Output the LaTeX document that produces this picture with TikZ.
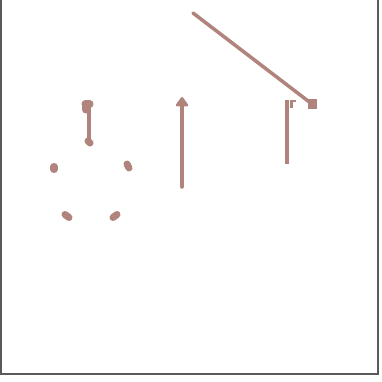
\documentclass[tikz,border=0pt]{standalone}
\usepackage{tikz}
\usetikzlibrary{arrows.meta,positioning,calc}
\usepackage{xcolor}
\definecolor{InkBrown}{HTML}{B0847C}
\definecolor{FrameGray}{HTML}{5A5A5A}

\begin{document}
\begin{tikzpicture}[x=0.03cm, y=-0.03cm,
    inkline/.style={InkBrown, line width=3pt, line cap=round},
    blob/.style={InkBrown, line width=6pt, line cap=round},
    framelines/.style={FrameGray, line width=1.4pt}]
        \useasboundingbox (0,0) rectangle (382,382);
        \draw[framelines] (0.7,0) -- (0.7,374) -- (378,374) -- (378,0);

        \coordinate (pentop) at (89,104);
        \coordinate (penhang) at (89,142);
        \coordinate (penleft) at (54,168);
        \coordinate (penright) at (128,166);
        \coordinate (penbl) at (67,216);
        \coordinate (penbr) at (115,216);

        \draw[inkline] (pentop) -- (penhang);
        \draw[blob] ($(pentop)+(-4,0)$) -- ($(pentop)+(1,0)$)
          ($(pentop)+(-3,0)$) -- ($(pentop)+(-3,6)$);
        \draw[blob] ($(penhang)+(-1,-1)$) -- ($(penhang)+(1,1)$);
        \draw[blob] ($(penleft)+(0,-1.5)$) -- ($(penleft)+(0,1.5)$);
        \draw[blob] ($(penright)+(-1,-2)$) -- ($(penright)+(1,2)$);
        \draw[blob] ($(penbl)+(-2,-1.5)$) -- ($(penbl)+(2,1.5)$);
        \draw[blob] ($(penbr)+(-2,1.5)$) -- ($(penbr)+(2,-1.5)$);

        \coordinate (midfoot) at (182,187);
        \coordinate (midtip) at (182,97);
        \draw[inkline, -{Triangle[width=12pt,length=9pt,round]}]
          (midfoot) -- (midtip);

        \coordinate (postfoot) at (287,164);
        \coordinate (posttop) at (287,100);
        \coordinate (posthook) at (293,104);
        \draw[inkline, line cap=butt] (postfoot) -- (posttop);
        \draw[InkBrown, line width=2.4pt] ($(posthook)+(-1.5,4)$) -- ($(posthook)+(-1.5,-3)$)
          -- ($(posthook)+(2.5,-3)$);

        \coordinate (slantstart) at (193,13);
        \coordinate (slantend) at (312,104);
        \draw[inkline] (slantstart) -- (slantend);
        \draw[blob, line width=9pt, line cap=butt] ($(slantend)+(-4,0)$) -- ($(slantend)+(5,0)$);
      \end{tikzpicture}
\end{document}
